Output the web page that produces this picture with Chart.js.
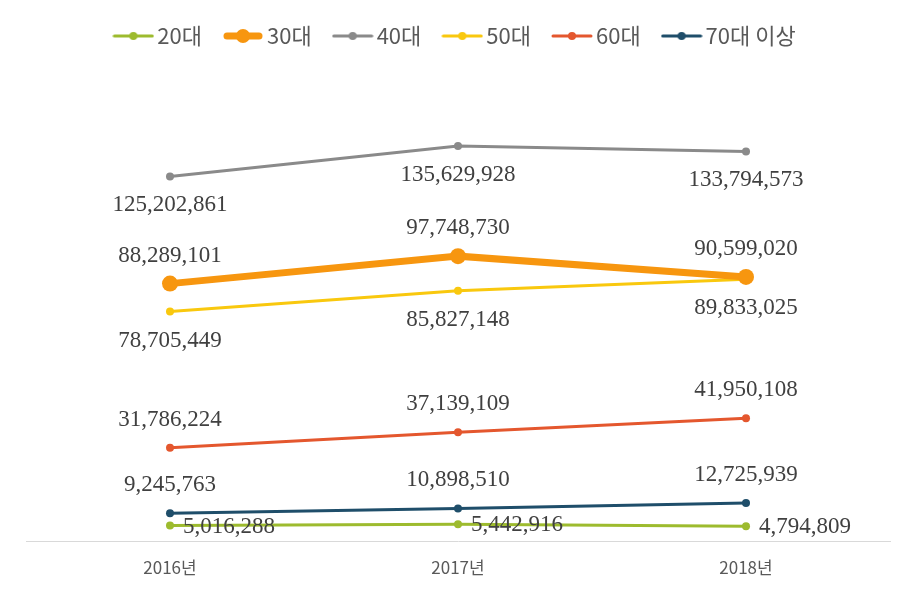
<!DOCTYPE html>
<html>
<head>
<meta charset="utf-8">
<script src="https://cdn.jsdelivr.net/npm/chart.js@4.4.1/dist/chart.umd.min.js"></script>
<style>
  html, body { margin: 0; padding: 0; background: #fff; }
  #wrap { width: 903px; height: 589px; }
</style>
</head>
<body>
<div id="wrap"><canvas id="ageChart"></canvas></div>
<script>
// Yearly amounts by age group
const categories = ['2016년', '2017년', '2018년'];
const seriesNames = ['20대', '30대', '40대', '50대', '60대', '70대 이상'];
const s20 = [5016288, 5442916, 4794809];
const s30 = [88289101, 97748730, 90599020];
const s40 = [125202861, 135629928, 133794573];
const s50 = [78705449, 85827148, 89833025];
const s60 = [31786224, 37139109, 41950108];
const s70 = [9245763, 10898510, 12725939];

const seriesData = [s20, s30, s40, s50, s60, s70];
const colors = ['#9DBB2E', '#F7960F', '#8A8A8A', '#F9C80E', '#E4572E', '#1F4E6A'];
const labelSide = ['right', 'above', 'below', 'below', 'above', 'above'];

const sansFont = '"Noto Sans CJK KR", "Noto Sans", sans-serif';
const serifFont = '"Liberation Serif", "DejaVu Serif", serif';

// little line-with-dot images for the legend (wider than the legend box,
// so the marker sits close to its text)
function legendMarker(color, thick) {
    const c = document.createElement('canvas');
    c.width = 42;
    c.height = 18;
    const g = c.getContext('2d');
    g.strokeStyle = color;
    g.fillStyle = color;
    g.lineWidth = thick ? 7 : 3;
    g.lineCap = 'round';
    g.beginPath();
    g.moveTo(thick ? 5 : 2, 9);
    g.lineTo(thick ? 37 : 40, 9);
    g.stroke();
    g.beginPath();
    g.arc(21, 9, thick ? 7 : 4, 0, Math.PI * 2);
    g.fill();
    return c;
}
const markers = colors.map((c, i) => legendMarker(c, i === 1));

// value labels next to each point
const valueLabels = {
    id: 'valueLabels',
    afterDatasetsDraw(chart) {
        const ctx = chart.ctx;
        ctx.save();
        ctx.font = '23px ' + serifFont;
        ctx.fillStyle = '#404040';
        ctx.textBaseline = 'middle';
        chart.data.datasets.forEach((ds, i) => {
            const meta = chart.getDatasetMeta(i);
            meta.data.forEach((pt, j) => {
                const txt = ds.data[j].toLocaleString('en-US');
                const side = labelSide[i];
                if (side === 'right') {
                    ctx.textAlign = 'left';
                    ctx.fillText(txt, pt.x + 13, pt.y + 1);
                } else {
                    ctx.textAlign = 'center';
                    ctx.fillText(txt, pt.x, side === 'above' ? pt.y - 28 : pt.y + 29);
                }
            });
        });
        ctx.restore();
    }
};

const datasets = seriesData.map((d, i) => ({
    label: seriesNames[i],
    data: d,
    borderColor: colors[i],
    backgroundColor: colors[i],
    borderWidth: i === 1 ? 7 : 3,
    pointRadius: i === 1 ? 8 : 4,
    pointHoverRadius: i === 1 ? 8 : 4,
    pointBorderWidth: 0,
    tension: 0
}));

const ctx = document.getElementById('ageChart').getContext('2d');
const ageChart = new Chart(ctx, {
    type: 'line',
    data: {
        labels: categories,
        datasets: datasets
    },
    options: {
        responsive: true,
        maintainAspectRatio: false,
        animation: false,
        layout: {
            padding: { top: -3, left: 26, right: 13, bottom: -5 }
        },
        plugins: {
            legend: {
                position: 'top',
                labels: {
                    color: '#595959',
                    font: { family: sansFont, size: 22 },
                    usePointStyle: true,
                    pointStyleWidth: 26,
                    padding: 28,
                    generateLabels(chart) {
                        const items = Chart.defaults.plugins.legend.labels.generateLabels(chart);
                        items.forEach((it, i) => { it.pointStyle = markers[i]; });
                        return items;
                    }
                }
            },
            tooltip: { enabled: false }
        },
        scales: {
            x: {
                offset: true,
                grid: { display: false, drawTicks: false },
                border: { display: true, color: '#D9D9D9', width: 1 },
                ticks: {
                    color: '#595959',
                    font: { family: sansFont, size: 17 },
                    padding: 16
                }
            },
            y: {
                display: false,
                min: -520000,
                max: 166300000
            }
        }
    },
    plugins: [valueLabels]
});
</script>
</body>
</html>
